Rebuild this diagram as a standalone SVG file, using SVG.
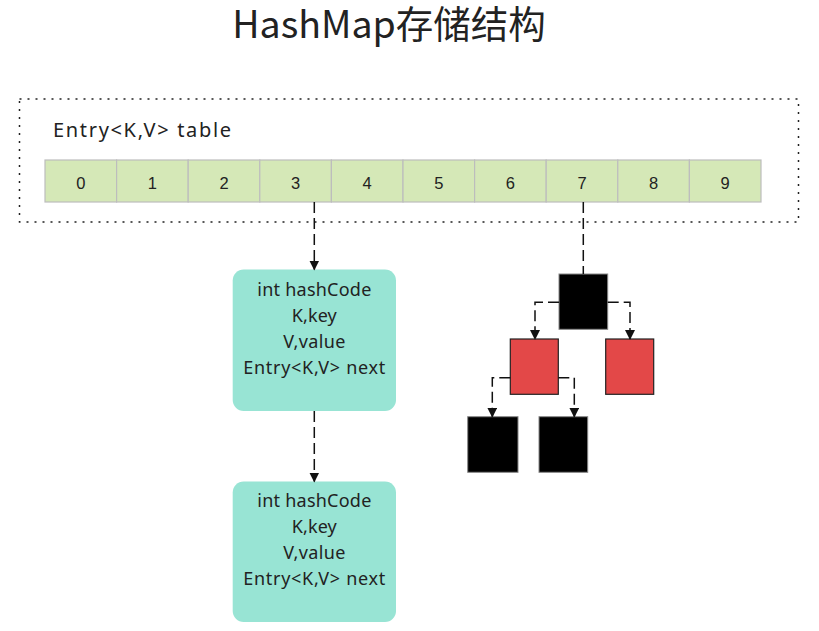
<svg xmlns="http://www.w3.org/2000/svg" width="819" height="631" viewBox="0 0 819 631">
<defs>
<marker id="arr" viewBox="0 0 10 10" refX="9" refY="5" markerWidth="10" markerHeight="10" markerUnits="userSpaceOnUse" orient="auto">
<path d="M0,0 L10,5 L0,10 z" fill="#111"/>
</marker>
<style>
.title{font-family:"Noto Sans CJK SC","Noto Sans",sans-serif;font-size:37.5px;fill:#222;}
.lbl{font-family:"Noto Sans","Open Sans",sans-serif;font-size:20px;fill:#222;}
.cell{fill:#D5E8B7;stroke:#BDBDBD;stroke-width:1.2;}
.num{font-family:"Liberation Sans",Arial,sans-serif;font-size:16.5px;fill:#222;text-anchor:middle;}
.entry{fill:#98E4D4;}
.etxt{font-family:"Noto Sans","Open Sans",sans-serif;font-size:18px;fill:#222;text-anchor:middle;}
.blk{fill:#000;stroke:#888;stroke-width:1;}
.red{fill:#E34848;stroke:#222;stroke-width:1.2;}
.edge{fill:none;stroke:#111;stroke-width:1.5;stroke-dasharray:11 5;}
</style>
</defs>
<rect width="819" height="631" fill="#fff"/>
<text class="title" x="389" y="38" text-anchor="middle">HashMap存储结构</text>

<g id="table">
<rect x="19.5" y="99" width="779" height="123" fill="none" stroke="#222" stroke-width="1.5" stroke-dasharray="2 6"/>
<text class="lbl" x="53" y="137" textLength="178" lengthAdjust="spacing">Entry&lt;K,V&gt; table</text>
<g id="cells">
<rect class="cell" x="45" y="160" width="71.6" height="42"/>
<rect class="cell" x="116.6" y="160" width="71.6" height="42"/>
<rect class="cell" x="188.2" y="160" width="71.6" height="42"/>
<rect class="cell" x="259.8" y="160" width="71.6" height="42"/>
<rect class="cell" x="331.4" y="160" width="71.6" height="42"/>
<rect class="cell" x="403" y="160" width="71.6" height="42"/>
<rect class="cell" x="474.6" y="160" width="71.6" height="42"/>
<rect class="cell" x="546.2" y="160" width="71.6" height="42"/>
<rect class="cell" x="617.8" y="160" width="71.6" height="42"/>
<rect class="cell" x="689.4" y="160" width="71.6" height="42"/>
<text class="num" x="80.8" y="189">0</text>
<text class="num" x="152.4" y="189">1</text>
<text class="num" x="224" y="189">2</text>
<text class="num" x="295.6" y="189">3</text>
<text class="num" x="367.2" y="189">4</text>
<text class="num" x="438.8" y="189">5</text>
<text class="num" x="510.4" y="189">6</text>
<text class="num" x="582" y="189">7</text>
<text class="num" x="653.6" y="189">8</text>
<text class="num" x="725.2" y="189">9</text>
</g>
</g>

<g id="entry1">
<rect class="entry" x="232.7" y="269.5" width="163.3" height="141.5" rx="11"/>
<text class="etxt" x="314.3" y="296" textLength="114" lengthAdjust="spacing">int hashCode</text>
<text class="etxt" x="314.3" y="322" textLength="45" lengthAdjust="spacing">K,key</text>
<text class="etxt" x="314.3" y="348" textLength="62" lengthAdjust="spacing">V,value</text>
<text class="etxt" x="314.3" y="374" textLength="142" lengthAdjust="spacing">Entry&lt;K,V&gt; next</text>
</g>
<g id="entry2">
<rect class="entry" x="232.7" y="481.5" width="163.3" height="140.5" rx="11"/>
<text class="etxt" x="314.3" y="507" textLength="114" lengthAdjust="spacing">int hashCode</text>
<text class="etxt" x="314.3" y="533" textLength="45" lengthAdjust="spacing">K,key</text>
<text class="etxt" x="314.3" y="559" textLength="62" lengthAdjust="spacing">V,value</text>
<text class="etxt" x="314.3" y="585" textLength="142" lengthAdjust="spacing">Entry&lt;K,V&gt; next</text>
</g>

<g id="root"><rect class="blk" x="559" y="274" width="48.7" height="55.3"/></g>
<g id="redL"><rect class="red" x="510.3" y="339" width="48" height="55.3"/></g>
<g id="redR"><rect class="red" x="605.7" y="339" width="48" height="55.3"/></g>
<g id="blkLL"><rect class="blk" x="467.7" y="416.7" width="50.3" height="55.6"/></g>
<g id="blkLR"><rect class="blk" x="539" y="416.7" width="48.7" height="55.6"/></g>

<g id="connectors">
<path class="edge" d="M314.3,202 V269.5" marker-end="url(#arr)"/>
<path class="edge" d="M314.3,411 V481.5" marker-end="url(#arr)"/>
<path class="edge" d="M583.3,202 V274"/>
<path class="edge" d="M559,302.3 H535 V339" marker-end="url(#arr)"/>
<path class="edge" d="M607.7,302.3 H630 V339" marker-end="url(#arr)"/>
<path class="edge" d="M510.3,377.7 H492.3 V416.7" marker-end="url(#arr)"/>
<path class="edge" d="M558.3,377.7 H574.3 V416.7" marker-end="url(#arr)"/>
</g>
</svg>
